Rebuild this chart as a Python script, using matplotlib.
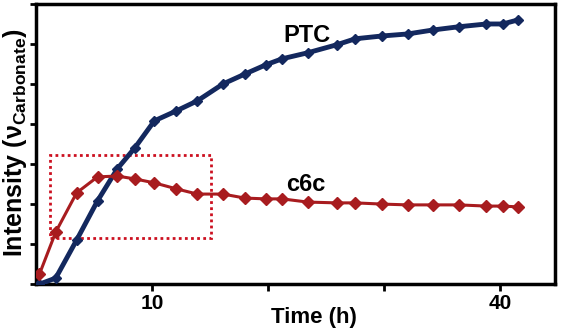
import matplotlib
matplotlib.use("Agg")
import matplotlib.pyplot as plt
from matplotlib.patches import Rectangle

plt.rcParams['font.family'] = ['Liberation Sans', 'DejaVu Sans']
plt.rcParams['mathtext.fontset'] = 'custom'
plt.rcParams['mathtext.rm'] = 'Liberation Sans'
plt.rcParams['mathtext.bf'] = 'Liberation Sans:bold'

# sampling times (h)
time_h = [0.3, 1.7, 3.5, 5.3, 7.0, 8.5, 10.2, 12.1, 13.9, 16.1, 18.0, 19.8,
          21.2, 23.4, 25.9, 27.5, 29.8, 32.0, 34.2, 36.4, 38.8, 40.2, 41.5]
ptc = [0.0, 0.15, 1.1, 2.08, 2.88, 3.4, 4.08, 4.33, 4.58, 5.0, 5.25, 5.48,
       5.63, 5.78, 5.98, 6.13, 6.2, 6.25, 6.35, 6.43, 6.5, 6.5, 6.6]
c6c = [0.25, 1.3, 2.28, 2.68, 2.7, 2.63, 2.53, 2.38, 2.25, 2.25, 2.15, 2.13,
       2.13, 2.05, 2.03, 2.03, 2.0, 1.98, 1.98, 1.98, 1.95, 1.95, 1.93]

x_ticks = [10, 20, 30, 40]
x_ticklabels = ['10', '', '', '40']

navy = '#13285e'
red = '#a81c1f'

fig = plt.figure(figsize=(5.62, 3.3), dpi=100)
ax = fig.add_axes([0.064, 0.139, 0.9235, 0.849])

ax.plot(time_h, ptc, color=navy, lw=3.5, marker='D', ms=5, zorder=3)
ax.plot(time_h, c6c, color=red, lw=2.2, marker='D', ms=6.5, zorder=4)

# dotted box around the early c6c maximum
ax.add_patch(Rectangle((1.2, 1.15), 13.9, 2.08, fill=False, ec='#cc1020',
                       lw=2, ls=(0, (1, 1.2)), zorder=2))

ax.text(23.3, 6.2, 'PTC', fontsize=17, fontweight='bold', ha='center', va='center')
ax.text(23.2, 2.5, 'c6c', fontsize=17, fontweight='bold', ha='center', va='center')

ax.set_xlim(0, 44.7)
ax.set_ylim(0, 7)
ax.set_xticks(x_ticks)
ax.set_xticklabels(x_ticklabels, fontsize=15, fontweight='bold')
ax.set_yticks(range(8))
ax.set_yticklabels([])
ax.tick_params(axis='x', direction='out', length=5, width=2, pad=2)
ax.tick_params(axis='y', direction='out', length=4, width=2)

for side in ax.spines:
    ax.spines[side].set_linewidth(2.5)
    ax.spines[side].set_color('black')

ax.set_xlabel('Time (h)', fontsize=16, fontweight='bold', va='center')
ax.xaxis.set_label_coords(0.535, -0.118)
ax.set_ylabel(r'Intensity ($\mathregular{\nu}_{\mathbf{Carbonate}}$)',
              fontsize=18, fontweight='bold', va='center')
ax.yaxis.set_label_coords(-0.04, 0.505)

fig.savefig('out.png', dpi=100)
